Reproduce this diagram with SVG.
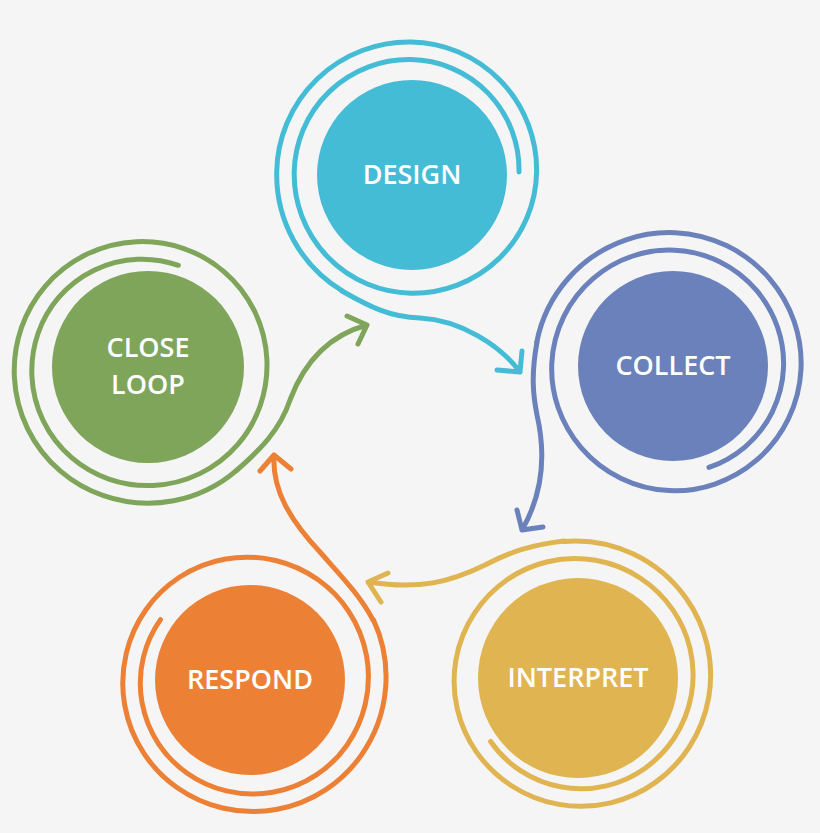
<svg xmlns="http://www.w3.org/2000/svg" width="820" height="833" viewBox="0 0 820 833">
<style>
.s{fill:none;stroke-width:5;stroke-linecap:round;stroke-linejoin:round}
.t{fill:#fff;font-family:"Open Sans","Liberation Sans",sans-serif;font-weight:600;font-size:27px;text-anchor:middle}
.b{stroke:#45bcd6}.p{stroke:#6b81bb}.y{stroke:#e0b450}.o{stroke:#ec8136}.g{stroke:#7ea55a}
</style>
<defs>
<path id="sp" d="M108,0 A110,110 0 0 0 0,-112.4 A114.6,114.6 0 0 0 -116.8,0 A119,119 0 0 0 0,121.2 A123.4,123.4 0 0 0 125.6,0 A127.8,127.8 0 0 0 0,-130 A132.2,132.2 0 0 0 -134.3,0 A135.8,135.8 0 0 0 -68.7,118.9"/>
</defs>
<rect width="820" height="833" fill="#f5f5f5"/>
<g id="design">
<circle cx="412" cy="175" r="95" fill="#45bcd6"/>
<use href="#sp" class="s b" transform="translate(411,172)"/>
<text class="t" x="412" y="184">DESIGN</text>
</g>
<g id="collect">
<circle cx="673" cy="366" r="95" fill="#6b81bb"/>
<use href="#sp" class="s p" transform="translate(672,366) rotate(70)"/>
<text class="t" x="673" y="375">COLLECT</text>
</g>
<g id="interpret">
<circle cx="578" cy="678" r="100" fill="#e0b450"/>
<use href="#sp" class="s y" transform="translate(578,678) rotate(144)"/>
<text class="t" x="578" y="687">INTERPRET</text>
</g>
<g id="respond">
<circle cx="250" cy="680" r="95" fill="#ec8136"/>
<use href="#sp" class="s o" transform="translate(250,680) rotate(214)"/>
<text class="t" x="250" y="689">RESPOND</text>
</g>
<g id="closeloop">
<circle cx="148" cy="367" r="96" fill="#7ea55a"/>
<use href="#sp" class="s g" transform="translate(145,368) rotate(-72)"/>
<text class="t" x="148" y="357">CLOSE</text>
<text class="t" x="148" y="394">LOOP</text>
</g>
<g id="connectors">
<path class="s b" d="M342,291 C370,307 390,317 420,318 C460,320 500,345 520,372 M497,370 L520,372 L522,351"/>
<path class="s p" d="M537,342 C531,375 533,395 537,415 C545,450 545,490 522,530 M517,510 L522,530 L543,527"/>
<path class="s y" d="M564,541 C530,545 510,552 485,565 C450,582 420,590 368,582 M388,573 L368,582 L381,602"/>
<path class="s o" d="M373,620 C360,595 340,575 320,552 C290,520 272,490 274,455 M260,471 L274,455 L291,469"/>
<path class="s g" d="M237,470 C260,450 280,430 290,400 C305,360 330,335 367,325 M347,316 L367,325 L358,344"/>
</g>
</svg>
